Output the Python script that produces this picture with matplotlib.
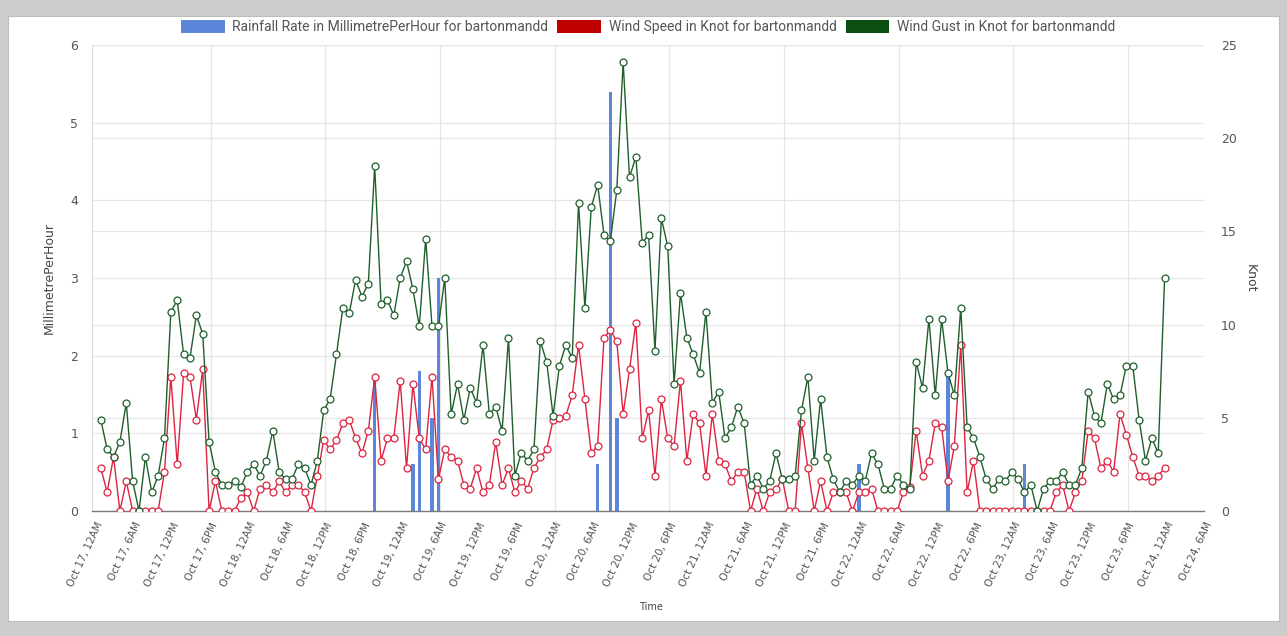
import matplotlib
matplotlib.use("Agg")
import matplotlib.pyplot as plt
from matplotlib.patches import Rectangle, Patch
from datetime import datetime, timedelta

# Hourly readings for station bartonmandd
wind_gust_knot = [
    4.9, 3.3, 2.9, 3.7, 5.8, 1.6, 0.0, 2.9, 1.0, 1.9, 3.9, 10.7, 11.3, 8.4, 8.2, 10.5,
    9.5, 3.7, 2.1, 1.4, 1.4, 1.6, 1.3, 2.1, 2.5, 1.9, 2.7, 4.3, 2.1, 1.7, 1.7, 2.5,
    2.3, 1.4, 2.7, 5.4, 6.0, 8.4, 10.9, 10.6, 12.4, 11.5, 12.2, 18.5, 11.1, 11.3, 10.5, 12.5,
    13.4, 11.9, 9.9, 14.6, 9.9, 9.9, 12.5, 5.2, 6.8, 4.9, 6.6, 5.8, 8.9, 5.2, 5.6, 4.3,
    9.3, 1.9, 3.1, 2.7, 3.3, 9.1, 8.0, 5.1, 7.8, 8.9, 8.2, 16.5, 10.9, 16.3, 17.5, 14.8,
    14.5, 17.2, 24.1, 17.9, 19.0, 14.4, 14.8, 8.6, 15.7, 14.2, 6.8, 11.7, 9.3, 8.4, 7.4, 10.7,
    5.8, 6.4, 3.9, 4.5, 5.6, 4.7, 1.4, 1.9, 1.2, 1.6, 3.1, 1.7, 1.7, 1.9, 5.4, 7.2,
    2.7, 6.0, 2.9, 1.7, 1.0, 1.6, 1.4, 1.9, 1.6, 3.1, 2.5, 1.2, 1.2, 1.9, 1.4, 1.2,
    8.0, 6.6, 10.3, 6.2, 10.3, 7.4, 6.2, 10.9, 4.5, 3.9, 2.9, 1.7, 1.2, 1.7, 1.6, 2.1,
    1.7, 1.0, 1.4, 0.0, 1.2, 1.6, 1.6, 2.1, 1.4, 1.4, 2.3, 6.4, 5.1, 4.7, 6.8, 6.0,
    6.2, 7.8, 7.8, 4.9, 2.7, 3.9, 3.1, 12.5,
]
wind_speed_knot = [
    2.3, 1.0, 2.9, 0.0, 1.6, 0.0, 0.0, 0.0, 0.0, 0.0, 2.1, 7.2, 2.5, 7.4, 7.2, 4.9,
    7.6, 0.0, 1.6, 0.0, 0.0, 0.0, 0.7, 1.0, 0.0, 1.2, 1.4, 1.0, 1.6, 1.0, 1.4, 1.4,
    1.0, 0.0, 1.9, 3.8, 3.3, 3.8, 4.7, 4.9, 3.9, 3.1, 4.3, 7.2, 2.7, 3.9, 3.9, 7.0,
    2.3, 6.8, 3.9, 3.3, 7.2, 1.7, 3.3, 2.9, 2.7, 1.4, 1.2, 2.3, 1.0, 1.4, 3.7, 1.4,
    2.3, 1.0, 1.6, 1.2, 2.3, 2.9, 3.3, 4.9, 5.0, 5.1, 6.2, 8.9, 6.0, 3.1, 3.5, 9.3,
    9.7, 9.1, 5.2, 7.6, 10.1, 3.9, 5.4, 1.9, 6.0, 3.9, 3.5, 7.0, 2.7, 5.2, 4.7, 1.9,
    5.2, 2.7, 2.5, 1.6, 2.1, 2.1, 0.0, 1.2, 0.0, 1.0, 1.2, 1.7, 0.0, 0.0, 4.7, 2.3,
    0.0, 1.6, 0.0, 1.0, 1.0, 1.0, 0.0, 1.0, 1.0, 1.2, 0.0, 0.0, 0.0, 0.0, 1.0, 1.3,
    4.3, 1.9, 2.7, 4.7, 4.5, 1.6, 3.5, 8.9, 1.0, 2.7, 0.0, 0.0, 0.0, 0.0, 0.0, 0.0,
    0.0, 0.0, 0.0, 0.0, 0.0, 0.0, 1.0, 1.4, 0.0, 1.0, 1.6, 4.3, 3.9, 2.3, 2.7, 2.1,
    5.2, 4.1, 2.9, 1.9, 1.9, 1.6, 1.9, 2.3,
]
# Rainfall only recorded in a few hours (index into the hourly series)
rain_hour_index = [43, 49, 50, 52, 53, 78, 80, 81, 119, 133, 145]
rain_mm_per_hour = [1.7, 0.6, 1.8, 1.2, 3.0, 0.6, 5.4, 1.2, 0.6, 1.75, 0.6]

series_start = datetime(2023, 10, 17, 0, 45)
times = [series_start + timedelta(hours=i) for i in range(len(wind_gust_knot))]
rain_times = [times[i] for i in rain_hour_index]

label_names = [
    "Rainfall Rate in MillimetrePerHour for bartonmandd",
    "Wind Speed in Knot for bartonmandd",
    "Wind Gust in Knot for bartonmandd",
]

BLUE = "#5b86d9"
RED_LINE = "#dd2340"
GREEN_LINE = "#1f5f2c"
TXT = "#555555"
GRID = "#e6e6e6"

W, H = 1287, 636
fig = plt.figure(figsize=(W / 100, H / 100), dpi=100)
fig.patch.set_facecolor("#cccccc")
fig.add_artist(Rectangle((8 / W, 15 / H), (1279 - 8) / W, (628 - 15 - 8) / H,
                         transform=fig.transFigure, facecolor="white",
                         edgecolor="#bdbdbd", linewidth=0.8, zorder=0))

left_px, right_px, top_px, bottom_px = 92, 1204.4, 45, 511
ax = fig.add_axes([left_px / W, 1 - bottom_px / H,
                   (right_px - left_px) / W, (bottom_px - top_px) / H])
ax.patch.set_alpha(0)
ax2 = ax.twinx()

day0 = datetime(2023, 10, 17)
x_min = day0 - timedelta(hours=0.63)
x_max = day0 + timedelta(days=7, hours=6)
ax.set_xlim(x_min, x_max)
ax.set_ylim(0, 6)
ax2.set_ylim(0, 25)

# grid: millimetre and knot levels, plus vertical lines every 18 hours
for v in range(1, 7):
    ax.axhline(v, color=GRID, lw=0.9, zorder=0)
for k in range(5, 26, 5):
    ax.axhline(k * 6 / 25, color=GRID, lw=0.9, zorder=0)
for h in range(18, 175, 18):
    ax.axvline(day0 + timedelta(hours=h), color=GRID, lw=0.9, zorder=0)

ax.bar(rain_times, rain_mm_per_hour, width=0.55 / 24, color=BLUE, zorder=2)

ax2.plot(times, wind_speed_knot, color=RED_LINE, lw=1.0, marker="o", ms=5,
         mfc="white", mec=RED_LINE, mew=0.9, zorder=3)
ax2.plot(times, wind_gust_knot, color=GREEN_LINE, lw=1.0, marker="o", ms=5,
         mfc="white", mec=GREEN_LINE, mew=0.9, zorder=4)

# x ticks every 6 hours
tick_times = [day0 + timedelta(hours=6 * i) for i in range(30)]


def fmt_tick(t):
    hr = t.hour % 12 or 12
    return f"{t:%b} {t.day}, {hr}{'AM' if t.hour < 12 else 'PM'}"


ax.set_xticks(tick_times)
ax.set_xticklabels([fmt_tick(t) for t in tick_times], rotation=65, ha="right",
                   va="top", rotation_mode="anchor", fontsize=7.5, color=TXT)
ax.tick_params(axis="x", length=0, pad=7)
ax.set_yticks(range(0, 7))
ax.tick_params(axis="y", length=0, pad=10, labelsize=9, labelcolor=TXT)
ax2.set_yticks(range(0, 26, 5))
ax2.tick_params(axis="y", length=0, pad=12, labelsize=9, labelcolor=TXT)

for a in (ax, ax2):
    for s in ("top", "right", "left"):
        a.spines[s].set_visible(False)
ax.spines["left"].set_visible(True)
ax.spines["left"].set_color("#dddddd")
ax.spines["bottom"].set_color("#7a7a7a")
ax.spines["bottom"].set_linewidth(1.0)
ax2.spines["bottom"].set_visible(False)

ax.set_ylabel("MillimetrePerHour", fontsize=9, color="#444444", labelpad=10)
ax2.set_ylabel("Knot", fontsize=9, color="#444444", rotation=270, labelpad=14)
fig.text(651 / W, 1 - 607 / H, "Time", fontsize=7, color="#444444",
         ha="center", va="center")

handles = [Patch(facecolor=BLUE), Patch(facecolor="#c00000"), Patch(facecolor="#0b4f10")]
fig.legend(handles, label_names, loc="center", bbox_to_anchor=(648 / W, 1 - 27 / H),
           ncol=3, frameon=False, prop={"family": "Roboto", "size": 10},
           labelcolor=TXT, handlelength=3.15, handleheight=1.05,
           handletextpad=0.55, columnspacing=0.65)

fig.savefig("out.png", dpi=100, facecolor=fig.get_facecolor())
